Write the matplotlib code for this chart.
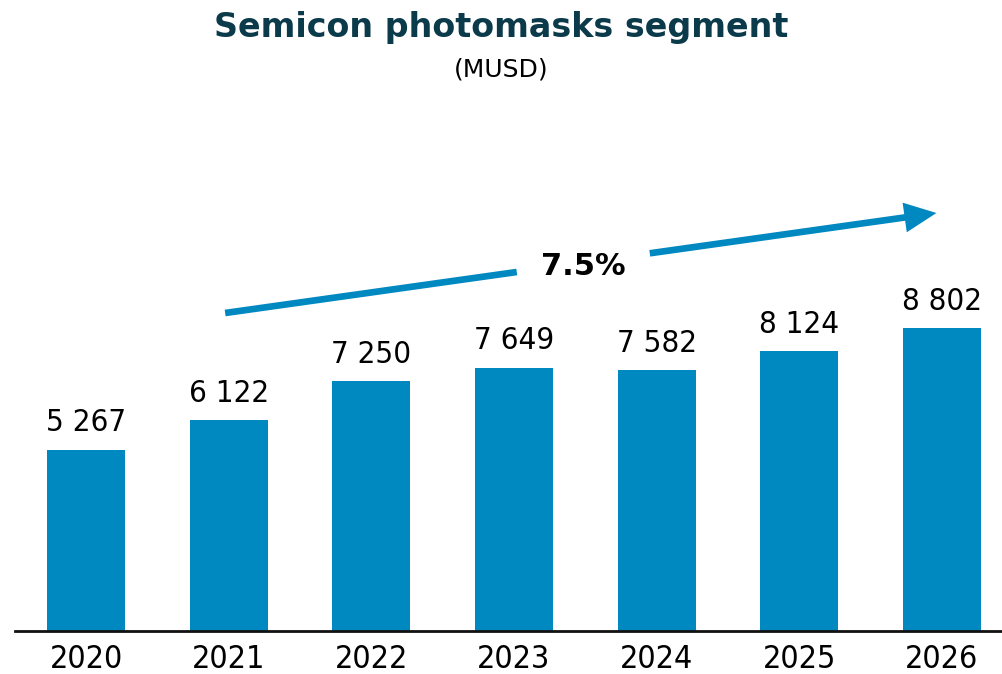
import matplotlib
matplotlib.use("Agg")
import matplotlib.pyplot as plt
from matplotlib.patches import FancyArrowPatch

years = ["2020", "2021", "2022", "2023", "2024", "2025", "2026"]
values = [5267, 6122, 7250, 7649, 7582, 8124, 8802]
cagr_label = "7.5%"
title = "Semicon photomasks segment"
subtitle = "(MUSD)"

BAR = "#0088C0"
TITLE_C = "#0B3A4A"

plt.rcParams['font.family'] = ['DejaVu Sans']

fig = plt.figure(figsize=(10.03, 6.74), dpi=100)
ax = fig.add_axes([15/1003, 43/674, 988/1003, 531/674])

x = list(range(len(years)))
ax.bar(x, values, width=0.547, color=BAR, zorder=2)
ax.set_xlim(-0.5, 6.43)
ax.set_ylim(0, 15427)

for xi, v in zip(x, values):
    ax.annotate(f"{v:,}".replace(",", " "), (xi, v), xytext=(0, 9),
                textcoords="offset points", ha="center", va="bottom",
                fontsize=22.5, fontstretch="condensed", color="black")

ax.set_xticks(x)
ax.set_xticklabels(years, fontsize=23, fontstretch="condensed")
ax.tick_params(axis="x", length=0, pad=9)
ax.set_yticks([])
for s in ["top", "right", "left"]:
    ax.spines[s].set_visible(False)
ax.spines["bottom"].set_linewidth(2.0)
ax.spines["bottom"].set_color("#111111")

# CAGR arrow
x0, y0 = 0.974, 9239
x1, y1 = 5.963, 12144
t1, t2 = 0.41, 0.597
xa, ya = x0 + (x1 - x0) * t1, y0 + (y1 - y0) * t1
xb, yb = x0 + (x1 - x0) * t2, y0 + (y1 - y0) * t2
ax.plot([x0, xa], [y0, ya], color=BAR, lw=4.8, solid_capstyle="butt", zorder=3)
arr = FancyArrowPatch((xb, yb), (x1, y1), arrowstyle="-|>,head_length=0.75,head_width=0.35",
                      mutation_scale=20, color=BAR, lw=4.8, zorder=3,
                      shrinkA=0, shrinkB=0, capstyle="butt", joinstyle="miter")
ax.add_patch(arr)
xm, ym = (xa + xb) / 2, (ya + yb) / 2
ax.text(xm, ym - 100, cagr_label, ha="center", va="center", fontsize=22,
        fontweight="bold", color="black")

fig.text(0.5, 1 - 27/674, title, ha="center", va="center", fontsize=24,
         fontweight="bold", color=TITLE_C)
fig.text(0.5, 1 - 69/674, subtitle, ha="center", va="center", fontsize=18,
         color="black")

fig.savefig("out.png", dpi=100)
